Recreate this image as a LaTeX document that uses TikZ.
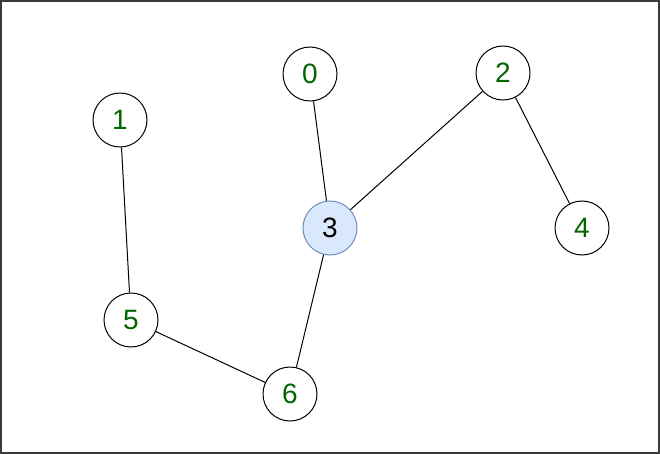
\documentclass[tikz,border=0pt]{standalone}
\usepackage{fontspec}
\setmainfont{Liberation Sans}
\definecolor{lbl}{HTML}{006600}
\definecolor{hlfill}{HTML}{DAE8FC}
\definecolor{hldraw}{HTML}{6C8EBF}
\definecolor{frame}{HTML}{3A3A3A}
\begin{document}
\begin{tikzpicture}[x=1pt,y=-1pt,
  vtx/.style={circle,draw=black,fill=white,line width=1pt,minimum size=54pt,inner sep=0pt,text=lbl,font=\fontsize{28pt}{32pt}\selectfont},
  hl/.style={vtx,fill=hlfill,draw=hldraw,text=black},
  edge/.style={draw=black,line width=1pt}]
\useasboundingbox (0,0) rectangle (660,454);
\draw[frame,line width=2pt] (1,1) rectangle (659,453);
\node[vtx] (n0) at (310,74) {0};
\node[vtx] (n1) at (120,120) {1};
\node[vtx] (n2) at (503,73) {2};
\node[hl]  (n3) at (330,228) {3};
\node[vtx] (n4) at (582,228) {4};
\node[vtx] (n5) at (131,320) {5};
\node[vtx] (n6) at (290,394) {6};
\path[edge] (n0) -- (n3);
\path[edge] (n2) -- (n3);
\path[edge] (n2) -- (n4);
\path[edge] (n3) -- (n6);
\path[edge] (n1) -- (n5);
\path[edge] (n5) -- (n6);
\end{tikzpicture}
\end{document}
